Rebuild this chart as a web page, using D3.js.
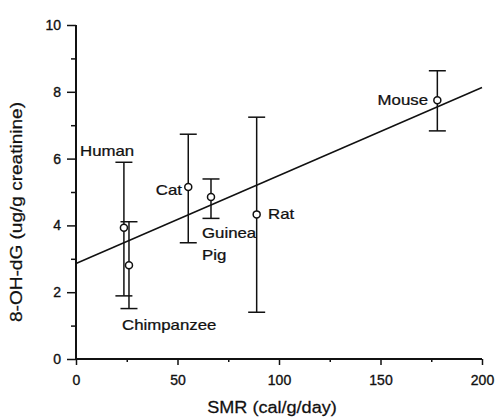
<!DOCTYPE html>
<html>
<head>
<meta charset="utf-8">
<script src="https://cdn.jsdelivr.net/npm/d3@7"></script>
<style>
  html, body { margin: 0; padding: 0; background: #fff; }
  svg { display: block; }
  text { font-family: "Liberation Sans", Arial, sans-serif; fill: #111; }
</style>
</head>
<body>
<svg id="chart" width="495" height="419"></svg>
<script>
// ---- data ----
const species   = ["Human", "Chimpanzee", "Cat", "Guinea Pig", "Rat", "Mouse"];
const smr       = [23.6, 26.1, 55.3, 66.5, 89.0, 178.0];
const ohdg      = [3.93, 2.81, 5.15, 4.85, 4.33, 7.75];
const errLow    = [1.89, 1.51, 3.48, 4.21, 1.40, 6.83];
const errHigh   = [5.89, 4.11, 6.73, 5.39, 7.24, 8.63];
const fitX      = [0, 200];
const fitY      = [2.86, 8.13];
const xTicks    = [0, 50, 100, 150, 200];
const xMinor    = [25, 75, 125, 175];
const yTicks    = [0, 2, 4, 6, 8, 10];
const yMinor    = [1, 3, 5, 7, 9];
const labelText = ["Human", "Cat", "Guinea", "Pig", "Chimpanzee", "Rat", "Mouse"];
const labelX    = [2.0, 52.2, 62.1, 62.1, 22.7, 94.6, 173.4];
const labelY    = [6.08, 4.91, 3.62, 2.96, 0.87, 4.19, 7.60];
const labelAnchor = ["start", "end", "start", "start", "start", "start", "end"];
const xTitle = "SMR (cal/g/day)";
const yTitle = "8-OH-dG (ug/g creatinine)";

// ---- layout ----
const svg = d3.select("#chart");
const x = d3.scaleLinear().domain([0, 200]).range([76, 482]);
const y = d3.scaleLinear().domain([0, 10]).range([359, 25]);
const ink = "#111";

// horizontally stretched text (the scanned font is wider than Arial)
function wideText(parent, px, py, str, size, sx, anchor, rot) {
  const g = parent.append("g")
    .attr("transform", `translate(${px},${py})` + (rot ? ` rotate(${rot})` : "") + ` scale(${sx},1)`);
  g.append("text").attr("x", 0).attr("y", 0)
    .attr("text-anchor", anchor).attr("font-size", size)
    .attr("stroke", ink).attr("stroke-width", 0.25)
    .text(str);
  return g;
}

// axes
const xAxis = d3.axisBottom(x).tickValues(xTicks).tickSize(6).tickPadding(10).tickFormat(d3.format("d"));
const gx = svg.append("g").attr("transform", `translate(0,${y(0)})`).call(xAxis);
const gxm = svg.append("g").attr("transform", `translate(0,${y(0)})`)
  .call(d3.axisBottom(x).tickValues(xMinor).tickSize(3).tickFormat(""));
gxm.select(".domain").remove();

const yAxis = d3.axisLeft(y).tickValues(yTicks).tickSize(9).tickPadding(6).tickFormat(d3.format("d"));
const gy = svg.append("g").attr("transform", `translate(${x(0)},0)`).call(yAxis);
const gym = svg.append("g").attr("transform", `translate(${x(0)},0)`)
  .call(d3.axisLeft(y).tickValues(yMinor).tickSize(5).tickFormat(""));
gym.select(".domain").remove();

[gx, gy, gxm, gym].forEach(g => {
  g.selectAll(".domain").attr("stroke", ink).attr("stroke-width", 2);
  g.selectAll(".tick line").attr("stroke", ink).attr("stroke-width", 1.5);
  g.selectAll(".tick text").attr("font-size", 14)
    .attr("font-family", "Liberation Sans, Arial, sans-serif")
    .attr("fill", ink).attr("stroke", ink).attr("stroke-width", 0.35);
});
gx.select(".domain").attr("d", `M${x(0)},0H${x(200)}`);
gy.select(".domain").attr("d", `M0,${y(0)}V${y(10)}`);

// axis titles
wideText(svg, 272, 413, xTitle, 16, 1.13, "middle", 0);
wideText(svg, 22, 212, yTitle, 16, 1.19, "middle", -90);

// regression line
svg.append("line")
  .attr("x1", x(fitX[0])).attr("y1", y(fitY[0]))
  .attr("x2", x(fitX[1])).attr("y2", y(fitY[1]))
  .attr("stroke", ink).attr("stroke-width", 1.5);

// error bars
const pts = species.map((s, i) => ({ s, x: smr[i], y: ohdg[i], lo: errLow[i], hi: errHigh[i] }));
const cap = 8.5;
const eb = svg.append("g").attr("stroke", ink).attr("stroke-width", 1.5);
eb.selectAll("line.v").data(pts).join("line").attr("class", "v")
  .attr("x1", d => x(d.x)).attr("x2", d => x(d.x))
  .attr("y1", d => y(d.lo)).attr("y2", d => y(d.hi));
eb.selectAll("line.hi").data(pts).join("line").attr("class", "hi")
  .attr("x1", d => x(d.x) - cap).attr("x2", d => x(d.x) + cap)
  .attr("y1", d => y(d.hi)).attr("y2", d => y(d.hi));
eb.selectAll("line.lo").data(pts).join("line").attr("class", "lo")
  .attr("x1", d => x(d.x) - cap).attr("x2", d => x(d.x) + cap)
  .attr("y1", d => y(d.lo)).attr("y2", d => y(d.lo));

// points
svg.append("g").selectAll("circle").data(pts).join("circle")
  .attr("cx", d => x(d.x)).attr("cy", d => y(d.y)).attr("r", 3.5)
  .attr("fill", "#fff").attr("stroke", ink).attr("stroke-width", 1.5);

// labels
const lg = svg.append("g");
labelText.forEach((t, i) => {
  wideText(lg, x(labelX[i]), y(labelY[i]), t, 14, 1.2, labelAnchor[i], 0);
});
</script>
</body>
</html>
